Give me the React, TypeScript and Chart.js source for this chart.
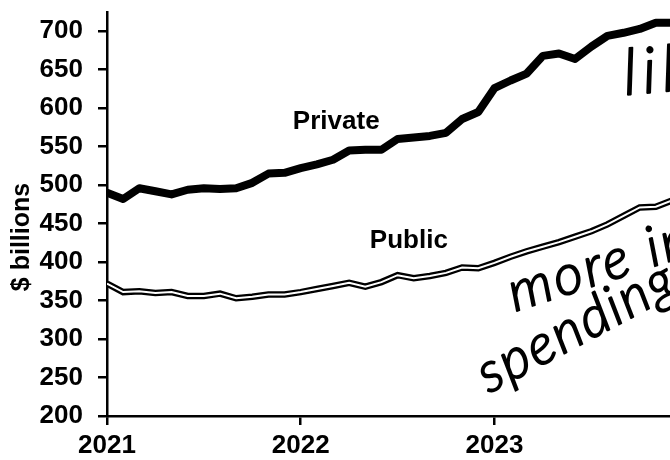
import React, { useEffect, useRef } from "react";
import { Chart, registerables } from "chart.js";

Chart.register(...registerables);

// Month index 0 = Jan 2021
const months: number[] = Array.from({ length: 36 }, (_, i) => i);

const privateSpending: number[] = [
  490, 482, 496, 492, 488, 494, 496, 495, 496, 503, 515, 516,
  522, 527, 533, 545, 546, 546, 560, 562, 564, 568, 586, 595,
  626, 636, 645, 668, 671, 664, 680, 694, 698, 703, 711, 711,
];

const publicSpending: number[] = [
  372, 361, 362, 360, 361, 356, 356, 359, 353, 355, 358, 358,
  361, 365, 369, 373, 368, 374, 383, 379, 382, 386, 393, 392,
  399, 407, 414, 420, 426, 433, 440, 449, 460, 471, 472, 480,
];

const yearTickMonths: number[] = [0, 12, 24];
const yearLabels: string[] = ["2021", "2022", "2023"];
const yTickValues: number[] = [200, 250, 300, 350, 400, 450, 500, 550, 600, 650, 700];

const yTitle = "$ billions";
const seriesLabels = { private: "Private", public: "Public" };
const notes = { top: "lik", line1: "more in", line2: "spending" };

const FONT = "'Liberation Sans', Arial, sans-serif";
const HAND = "Lato, 'Open Sans', sans-serif";

export default function App() {
  const ref = useRef<HTMLCanvasElement | null>(null);

  useEffect(() => {
    if (!ref.current) return;

    const textPlugin = {
      id: "annotations",
      afterDraw(chart: any) {
        const ctx = chart.ctx as CanvasRenderingContext2D;
        const xs = chart.scales.x;
        const ys = chart.scales.y;
        ctx.save();
        ctx.fillStyle = "#000";

        // y axis title
        ctx.save();
        ctx.translate(22, 237);
        ctx.rotate(-Math.PI / 2);
        ctx.font = `bold 25px ${FONT}`;
        ctx.textAlign = "center";
        ctx.textBaseline = "middle";
        ctx.fillText(yTitle, 0, 0);
        ctx.restore();

        // series labels
        ctx.font = `bold 26px ${FONT}`;
        ctx.textAlign = "center";
        ctx.textBaseline = "middle";
        ctx.fillText(seriesLabels.private, xs.getPixelForValue(14.2), ys.getPixelForValue(582));
        ctx.fillText(seriesLabels.public, xs.getPixelForValue(18.7), ys.getPixelForValue(428));

        // handwritten notes
        const hand = (txt: string, mx: number, v: number, angle: number, size: number, spacing: number) => {
          ctx.save();
          ctx.translate(xs.getPixelForValue(mx), ys.getPixelForValue(v));
          ctx.rotate((angle * Math.PI) / 180);
          ctx.font = `italic 300 ${size}px ${HAND}`;
          (ctx as any).letterSpacing = `${spacing}px`;
          ctx.textAlign = "left";
          ctx.textBaseline = "alphabetic";
          ctx.lineWidth = 1.8;
          ctx.lineJoin = "round";
          ctx.strokeStyle = "#000";
          ctx.fillText(txt, 0, 0);
          ctx.strokeText(txt, 0, 0);
          ctx.restore();
        };
        hand(notes.top, (624 - 107) / 16.11, 725 - (95 - 12) / 0.77, -5, 64, 6);
        hand(notes.line1, (514 - 107) / 16.11, 725 - (312 - 12) / 0.77, -18, 56, 3);
        hand(notes.line2, (488 - 107) / 16.11, 725 - (394 - 12) / 0.77, -28, 56, 2);

        ctx.restore();
      },
    };

    const chart = new Chart(ref.current, {
      type: "line",
      data: {
        datasets: [
          {
            label: "Public outline",
            data: months.map((m, i) => ({ x: m, y: publicSpending[i] })),
            borderColor: "#000",
            borderWidth: 6.5,
            pointRadius: 0,
            tension: 0,
            order: 3,
          },
          {
            label: "Public",
            data: months.map((m, i) => ({ x: m, y: publicSpending[i] })),
            borderColor: "#fff",
            borderWidth: 2,
            pointRadius: 0,
            tension: 0,
            order: 2,
          },
          {
            label: "Private",
            data: months.map((m, i) => ({ x: m, y: privateSpending[i] })),
            borderColor: "#000",
            borderWidth: 8,
            borderJoinStyle: "round",
            borderCapStyle: "round",
            pointRadius: 0,
            tension: 0,
            order: 1,
          },
        ],
      },
      options: {
        animation: false,
        responsive: false,
        layout: { padding: { top: 12, left: 0, right: 0, bottom: 0 } },
        plugins: {
          legend: { display: false },
          tooltip: { enabled: false },
        },
        scales: {
          x: {
            type: "linear",
            min: 0,
            max: 35,
            afterBuildTicks: (scale: any) => {
              scale.ticks = yearTickMonths.map((v) => ({ value: v }));
            },
            afterFit: (scale: any) => {
              scale.height = 44;
              scale.paddingLeft = 0;
              scale.paddingRight = 0;
              scale.paddingTop = 0;
              scale.paddingBottom = 0;
            },
            ticks: {
              autoSkip: false,
              maxRotation: 0,
              padding: 5,
              color: "#000",
              font: { family: FONT, size: 26, weight: "bold" },
              callback: (value: any) => {
                const idx = yearTickMonths.indexOf(Number(value));
                return idx >= 0 ? yearLabels[idx] : "";
              },
            },
            grid: {
              drawOnChartArea: false,
              drawTicks: true,
              tickLength: 9,
              color: "#000",
              lineWidth: 2.5,
            },
            border: { display: true, color: "#000", width: 2.5 },
          },
          y: {
            type: "linear",
            min: 200,
            max: 725,
            afterBuildTicks: (scale: any) => {
              scale.ticks = yTickValues.map((v) => ({ value: v }));
            },
            afterFit: (scale: any) => {
              scale.width = 107;
              scale.paddingTop = 0;
              scale.paddingBottom = 0;
              scale.paddingLeft = 0;
              scale.paddingRight = 0;
            },
            ticks: {
              padding: 15,
              color: "#000",
              font: { family: FONT, size: 26, weight: "bold" },
            },
            grid: {
              drawOnChartArea: false,
              drawTicks: true,
              tickLength: 9,
              color: "#000",
              lineWidth: 2.5,
            },
            border: { display: true, color: "#000", width: 2.5 },
          },
        },
      },
      plugins: [textPlugin],
    } as any);

    return () => chart.destroy();
  }, []);

  return (
    <div
      style={{
        position: "fixed",
        left: 0,
        top: 0,
        width: 670,
        height: 460,
        overflow: "hidden",
        background: "#fff",
      }}
    >
      <canvas ref={ref} width={672} height={460} style={{ display: "block" }} />
    </div>
  );
}
